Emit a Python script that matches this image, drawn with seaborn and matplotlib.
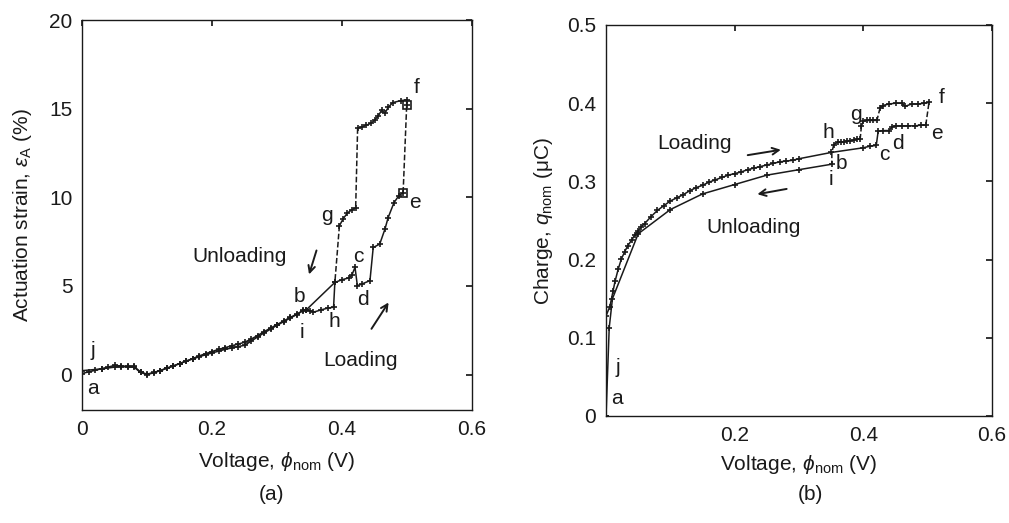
import matplotlib
matplotlib.use("Agg")
import matplotlib.pyplot as plt
import seaborn as sns

# ---- (a) actuation strain vs voltage ----
# loading a -> b
load_a_x = [0.0, 0.01, 0.02, 0.03, 0.04, 0.05, 0.06, 0.07, 0.08, 0.09, 0.10,
            0.11, 0.12, 0.13, 0.14, 0.15, 0.16, 0.17, 0.18, 0.19, 0.20, 0.21,
            0.22, 0.23, 0.24, 0.25, 0.26, 0.27, 0.28, 0.29, 0.30, 0.31, 0.32,
            0.33, 0.34, 0.345]
load_a_y = [0.06, 0.15, 0.24, 0.33, 0.42, 0.52, 0.48, 0.47, 0.46, 0.15, 0.02,
            0.12, 0.22, 0.35, 0.48, 0.62, 0.76, 0.90, 1.05, 1.18, 1.30, 1.42,
            1.52, 1.62, 1.72, 1.82, 2.00, 2.20, 2.42, 2.62, 2.82, 3.02, 3.22,
            3.40, 3.60, 3.65]
# loading b -> c -> d -> e
load_b_x = [0.345, 0.389, 0.40, 0.41, 0.415, 0.42, 0.4236, 0.43, 0.443, 0.448,
            0.458, 0.466, 0.471, 0.48, 0.487, 0.494]
load_b_y = [3.65, 5.20, 5.35, 5.45, 5.60, 6.05, 5.02, 5.10, 5.30, 7.17,
            7.36, 8.20, 8.86, 9.70, 10.07, 10.26]
# unloading f -> top branch
unl_f_x = [0.4995, 0.4995, 0.49, 0.478, 0.471, 0.466, 0.461, 0.456, 0.450,
           0.445, 0.437, 0.430, 0.424]
unl_f_y = [15.2, 15.5, 15.45, 15.34, 15.07, 14.74, 14.92, 14.60, 14.35,
           14.18, 14.06, 13.96, 13.90]
unl_g_x = [0.421, 0.415, 0.408, 0.402, 0.396]
unl_g_y = [9.40, 9.30, 9.10, 8.80, 8.40]
# unloading h -> i -> j
unl_h_x = [0.389, 0.387, 0.378, 0.368, 0.356, 0.351, 0.34, 0.33, 0.32, 0.31,
           0.30, 0.29, 0.28, 0.27, 0.26, 0.25, 0.24, 0.23, 0.22, 0.21, 0.20,
           0.19, 0.18, 0.17, 0.16, 0.15, 0.14, 0.13, 0.12, 0.11, 0.10, 0.09,
           0.08, 0.07, 0.06, 0.05, 0.03, 0.0]
unl_h_y = [5.20, 3.80, 3.75, 3.65, 3.52, 3.61, 3.62, 3.38, 3.18, 2.98,
           2.78, 2.56, 2.35, 2.12, 1.88, 1.65, 1.58, 1.50, 1.42, 1.32, 1.22,
           1.12, 1.00, 0.88, 0.75, 0.62, 0.48, 0.36, 0.22, 0.10, 0.00, 0.12,
           0.42, 0.43, 0.45, 0.42, 0.32, 0.22]
strain_ef_x = [0.494, 0.4995]
strain_ef_y = [10.26, 15.2]
strain_fg_x = [0.424, 0.421]
strain_fg_y = [13.90, 9.40]
strain_gh_x = [0.396, 0.389]
strain_gh_y = [8.40, 5.20]

# ---- (b) charge vs voltage ----
qload_x = [0.0, 0.0, 0.006, 0.011, 0.014, 0.019, 0.024, 0.029, 0.034, 0.04,
           0.045, 0.05, 0.055, 0.06, 0.07, 0.08, 0.09, 0.10, 0.11, 0.12, 0.13,
           0.14, 0.15, 0.16, 0.17, 0.18, 0.19, 0.20, 0.21, 0.22, 0.23, 0.24,
           0.25, 0.26, 0.27, 0.28, 0.29, 0.30, 0.35, 0.40, 0.41, 0.42, 0.423,
           0.43, 0.44, 0.445, 0.45, 0.46, 0.47, 0.48, 0.49, 0.497]
qload_y = [0.0, 0.128, 0.140, 0.160, 0.172, 0.188, 0.201, 0.210, 0.218, 0.225,
           0.232, 0.237, 0.242, 0.246, 0.255, 0.263, 0.269, 0.275, 0.279, 0.283,
           0.288, 0.292, 0.295, 0.299, 0.302, 0.305, 0.308, 0.310, 0.312, 0.315,
           0.317, 0.319, 0.321, 0.323, 0.325, 0.326, 0.327, 0.329, 0.337, 0.343,
           0.345, 0.346, 0.364, 0.365, 0.365, 0.370, 0.371, 0.371, 0.371, 0.371,
           0.372, 0.372]
qtop_x = [0.502, 0.495, 0.485, 0.475, 0.465, 0.46, 0.45, 0.44, 0.43, 0.426]
qtop_y = [0.401, 0.400, 0.399, 0.399, 0.396, 0.400, 0.400, 0.399, 0.397, 0.394]
qg_x = [0.421, 0.415, 0.41, 0.405, 0.40, 0.397]
qg_y = [0.378, 0.378, 0.378, 0.378, 0.377, 0.371]
qh_x = [0.395, 0.39, 0.385, 0.38, 0.375, 0.37, 0.365, 0.36, 0.354]
qh_y = [0.354, 0.354, 0.353, 0.352, 0.352, 0.351, 0.350, 0.350, 0.347]
qunl_x = [0.351, 0.30, 0.25, 0.20, 0.15, 0.10, 0.05, 0.01, 0.005, 0.0]
qunl_y = [0.322, 0.315, 0.308, 0.296, 0.284, 0.264, 0.233, 0.150, 0.113, 0.0]
q_ef_x = [0.497, 0.502]
q_ef_y = [0.372, 0.401]
q_fg_x = [0.426, 0.421]
q_fg_y = [0.394, 0.378]
q_gh_x = [0.397, 0.395]
q_gh_y = [0.371, 0.354]
q_hi_x = [0.354, 0.351, 0.351]
q_hi_y = [0.347, 0.337, 0.322]

strain_labels = {"a": (0.017, -0.8), "j": (0.017, 1.35), "b": (0.335, 4.4),
                 "i": (0.338, 2.4), "h": (0.389, 3.0), "g": (0.377, 8.95),
                 "c": (0.425, 6.65), "d": (0.432, 4.25), "e": (0.512, 9.7),
                 "f": (0.515, 16.2)}
charge_labels = {"a": (0.017, 0.022), "j": (0.019, 0.062), "b": (0.366, 0.323),
                 "i": (0.349, 0.302), "h": (0.345, 0.362), "g": (0.388, 0.385),
                 "c": (0.432, 0.335), "d": (0.453, 0.348), "e": (0.514, 0.361),
                 "f": (0.522, 0.407)}

sns.set_theme(style="white")
plt.rcParams["font.family"] = ["Liberation Sans", "DejaVu Sans"]
plt.rcParams["mathtext.fontset"] = "custom"
plt.rcParams["mathtext.rm"] = "Liberation Sans"
plt.rcParams["mathtext.it"] = "Liberation Sans:italic"
plt.rcParams["mathtext.bf"] = "Liberation Sans:bold"

INK = "#1a1a1a"
FS = 15


def seg(ax, x, y, dashed=False, marker="+", ms=5):
    sns.lineplot(x=x, y=y, ax=ax, sort=False, estimator=None, color=INK,
                 linewidth=1.1, linestyle="--" if dashed else "-",
                 marker=marker, markersize=ms, markeredgewidth=1.2,
                 markeredgecolor=INK, markerfacecolor=INK)


def style(ax):
    for s in ax.spines.values():
        s.set_visible(True)
        s.set_color(INK)
        s.set_linewidth(1.0)
    ax.tick_params(direction="in", top=True, right=True, length=4,
                   labelsize=FS, colors=INK, pad=7)
    ax.tick_params(axis="both", labelcolor=INK)


fig = plt.figure(figsize=(10.09, 5.23), dpi=100)
ax1 = fig.add_axes([0.0813, 0.216, 0.3865, 0.7457])
ax2 = fig.add_axes([0.6006, 0.2046, 0.3826, 0.7476])

# panel (a)
seg(ax1, load_a_x, load_a_y)
seg(ax1, load_b_x, load_b_y)
seg(ax1, unl_f_x, unl_f_y)
seg(ax1, unl_g_x, unl_g_y)
seg(ax1, unl_h_x, unl_h_y)
seg(ax1, strain_ef_x, strain_ef_y, dashed=True, marker="s", ms=6)
ax1.lines[-1].set_markerfacecolor("none")
seg(ax1, strain_fg_x, strain_fg_y, dashed=True, marker=None)
seg(ax1, strain_gh_x, strain_gh_y, dashed=True, marker=None)
ax1.set_xlim(0, 0.6)
ax1.set_ylim(-2, 20)
ax1.set_xticks([0, 0.2, 0.4, 0.6])
ax1.set_xticklabels(["0", "0.2", "0.4", "0.6"])
ax1.set_yticks([0, 5, 10, 15, 20])
ax1.set_xlabel(r"Voltage, $\phi_\mathrm{nom}$ (V)", fontsize=FS, color=INK,
               labelpad=8)
ax1.set_ylabel(r"Actuation strain, $\varepsilon_\mathrm{A}$ (%)", fontsize=FS,
               color=INK, labelpad=11)
for k, (x, y) in strain_labels.items():
    ax1.text(x, y, k, fontsize=FS, ha="center", va="center", color=INK)
ax1.text(0.242, 6.65, "Unloading", fontsize=FS, ha="center", va="center",
         color=INK)
ax1.text(0.429, 0.8, "Loading", fontsize=FS, ha="center", va="center",
         color=INK)
ax1.annotate("", xy=(0.348, 5.5), xytext=(0.362, 7.15),
             arrowprops=dict(arrowstyle="->", lw=1.4, color=INK))
ax1.annotate("", xy=(0.474, 4.2), xytext=(0.443, 2.45),
             arrowprops=dict(arrowstyle="->", lw=1.4, color=INK))
style(ax1)

# panel (b)
seg(ax2, qload_x, qload_y)
seg(ax2, qtop_x, qtop_y)
seg(ax2, qg_x, qg_y)
seg(ax2, qh_x, qh_y)
seg(ax2, qunl_x, qunl_y)
seg(ax2, q_ef_x, q_ef_y, dashed=True, marker=None)
seg(ax2, q_fg_x, q_fg_y, dashed=True, marker=None)
seg(ax2, q_gh_x, q_gh_y, dashed=True, marker=None)
seg(ax2, q_hi_x, q_hi_y, dashed=True, marker=None)
ax2.set_xlim(0, 0.6)
ax2.set_ylim(0, 0.5)
ax2.set_xticks([0.2, 0.4, 0.6])
ax2.set_xticklabels(["0.2", "0.4", "0.6"])
ax2.set_yticks([0, 0.1, 0.2, 0.3, 0.4, 0.5])
ax2.set_yticklabels(["0", "0.1", "0.2", "0.3", "0.4", "0.5"])
ax2.set_xlabel(r"Voltage, $\phi_\mathrm{nom}$ (V)", fontsize=FS, color=INK,
               labelpad=6)
ax2.set_ylabel(r"Charge, $q_\mathrm{nom}$ (μC)", fontsize=FS, color=INK,
               labelpad=9)
for k, (x, y) in charge_labels.items():
    ax2.text(x, y, k, fontsize=FS, ha="center", va="center", color=INK)
ax2.text(0.138, 0.348, "Loading", fontsize=FS, ha="center", va="center",
         color=INK)
ax2.text(0.23, 0.241, "Unloading", fontsize=FS, ha="center", va="center",
         color=INK)
ax2.annotate("", xy=(0.276, 0.341), xytext=(0.216, 0.333),
             arrowprops=dict(arrowstyle="->", lw=1.4, color=INK))
ax2.annotate("", xy=(0.231, 0.283), xytext=(0.285, 0.291),
             arrowprops=dict(arrowstyle="->", lw=1.4, color=INK))
style(ax2)

fig.text(271 / 1009, 1 - 494 / 523, "(a)", fontsize=FS, ha="center",
         va="center", color=INK)
fig.text(810 / 1009, 1 - 494 / 523, "(b)", fontsize=FS, ha="center",
         va="center", color=INK)

fig.savefig("out.png", dpi=100, facecolor="white")
